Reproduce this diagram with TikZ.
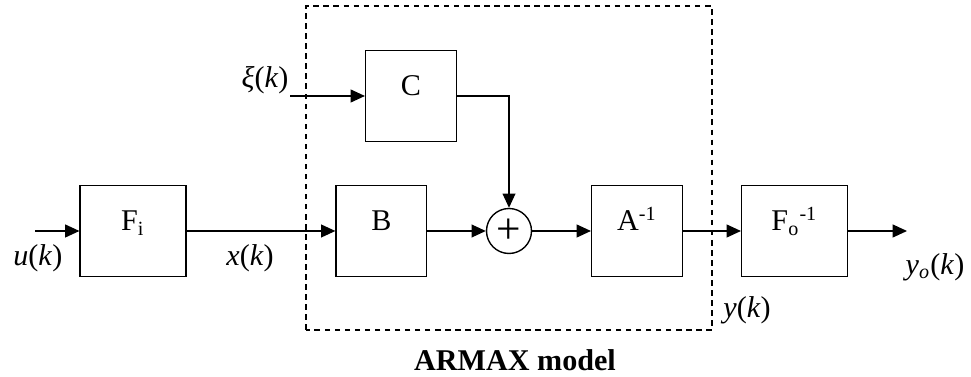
\documentclass[tikz,border=0pt,12pt]{standalone}
\usepackage{fontspec}
\setmainfont{Liberation Serif}
\usepackage{tikz}
\usetikzlibrary{arrows.meta,positioning}

\begin{document}
\begin{tikzpicture}[
blk/.style={draw,line width=0.55pt,minimum width=1.27cm,minimum height=1.27cm,text height=0.3cm,text depth=0.3cm,inner sep=0pt},
wide/.style={blk,minimum width=1.48cm},
sumnode/.style={draw,circle,line width=0.55pt,minimum size=0.63cm,inner sep=0pt,font=\Large},
arr/.style={-{Triangle[length=0.2cm,width=0.18cm]},line width=0.55pt},
lbl/.style={inner sep=0pt}
]
\useasboundingbox (0,-2.044) rectangle (13.594,3.234);
% ARMAX part
\draw[line width=0.55pt,dash pattern=on 2.2pt off 1.8pt] (4.284,-1.386) rectangle (9.968,3.15);
\node[font=\bfseries] (armax) at (7.21,-1.806) {ARMAX model};
% blocks
\node[wide] (fi) at (1.862,0) {F\textsubscript{i}};
\node[blk] (b) at (5.34,0) {B};
\node[blk] (c) at (5.754,1.89) {C};
\node[sumnode] (sum) at (7.126,0) {+};
\node[blk] (ainv) at (8.918,0) {A\textsuperscript{-1}};
\node[wide] (fo) at (11.123,0) {F\textsubscript{o}\textsuperscript{-1}};
% free ends
\coordinate (uin) at (0.49,0);
\coordinate (xiin) at (4.06,1.89);
\coordinate (yout) at (12.698,0);
% signals
\draw[arr] (uin) -- (fi);
\draw[arr] (fi) -- (b);
\draw[arr] (xiin) -- (c);
\draw[arr] (b) -- (sum);
\draw[arr] (c.east) -| (sum.north);
\draw[arr] (sum) -- (ainv);
\draw[arr] (ainv) -- (fo);
\draw[arr] (fo) -- (yout);
% labels
\node[lbl] (ulbl) at (0.53,-0.378) {\textit{u}(\textit{k})};
\node[lbl] (xlbl) at (3.5,-0.378) {\textit{x}(\textit{k})};
\node[lbl] (xilbl) at (3.71,2.114) {\textit{ξ}(\textit{k})};
\node[lbl] (ylbl) at (10.458,-1.106) {\textit{y}(\textit{k})};
\node[lbl] (yolbl) at (13.09,-0.504) {\textit{y}\textsubscript{\textit{o}}(\textit{k})};
\end{tikzpicture}
\end{document}
